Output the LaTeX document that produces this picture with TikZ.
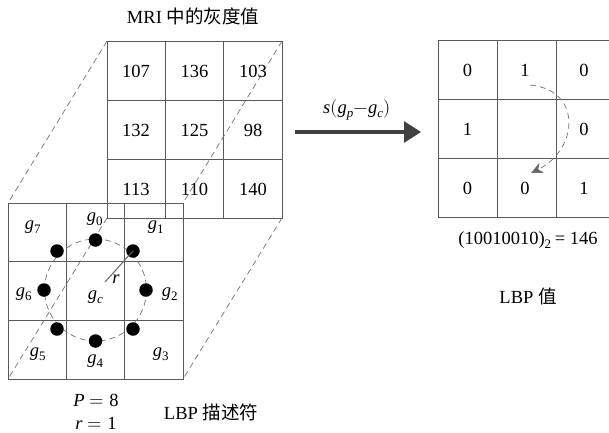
\documentclass[tikz,border=0pt]{standalone}
\usepackage{fontspec}
\setmainfont{Liberation Serif}
\newfontfamily\cjk{Noto Sans CJK SC}
\usepackage{unicode-math}
\setmathfont{Latin Modern Math}
\setmathfont[range={it/{latin,Latin}}]{Liberation Serif Italic}
\setmathfont[range={up/num}]{Liberation Serif}
\usetikzlibrary{arrows.meta}
\begin{document}
\begin{tikzpicture}[x=1pt,y=-1pt,
  gridline/.style={draw=black!65,line width=0.8pt},
  guide/.style={draw=black!55,dash pattern=on 6pt off 4pt,line width=0.7pt},
  num/.style={font=\fontsize{18.5}{18.5}\selectfont,inner sep=0pt},
  lab/.style={font=\fontsize{18.5}{18.5}\selectfont,inner sep=0pt},
  dot/.style={circle,fill=black,inner sep=0pt,minimum size=13.5pt},
  bigarrow/.style={draw=black!75,line width=3.2pt,-{Triangle[length=17pt,width=21pt]}}]
\useasboundingbox (0,0) rectangle (609,432);
% back grid corners
\coordinate (btl) at (107,41); \coordinate (btr) at (282,41);
\coordinate (bbl) at (107,218); \coordinate (bbr) at (282,218);
% front grid corners
\coordinate (ftl) at (8,203); \coordinate (ftr) at (183,203);
\coordinate (fbl) at (8,379); \coordinate (fbr) at (183,379);
% back grid
\draw[gridline] (btl) rectangle (bbr);
\draw[gridline] (165.3,41) -- (165.3,218) (223.7,41) -- (223.7,218)
  (107,100) -- (282,100) (107,159) -- (282,159);
% front grid
\draw[gridline] (ftl) rectangle (fbr);
\draw[gridline] (66.3,203) -- (66.3,379) (124.7,203) -- (124.7,379)
  (8,261.7) -- (183,261.7) (8,320.3) -- (183,320.3);
% dashed guides
\draw[guide] (btl) -- (ftl);
\draw[guide] (btr) -- (ftr);
\draw[guide] (bbr) -- (fbr);
\draw[guide] (bbl) -- (fbl);
% back numbers
\node[num] (n11) at (136,71) {107};
\node[num] (n12) at (194.5,71) {136};
\node[num] (n13) at (253,71) {103};
\node[num] (n21) at (136,130) {132};
\node[num] (n22) at (194.5,130) {125};
\node[num] (n23) at (253,130) {98};
\node[num] (n31) at (136,189) {113};
\node[num] (n32) at (194.5,189) {110};
\node[num] (n33) at (253,189) {140};
\node[num] (title) at (193,16) {MRI {\cjk 中的灰度值}};
% circle and dots
\coordinate (c) at (95.5,290);
\draw[guide] (c) circle[radius=51];
\node[dot] (d0) at (95.5,240) {};
\node[dot] (d1) at (133,251) {};
\node[dot] (d2) at (146,290) {};
\node[dot] (d3) at (133,329) {};
\node[dot] (d4) at (95.5,341) {};
\node[dot] (d5) at (57,329) {};
\node[dot] (d6) at (44,290) {};
\node[dot] (d7) at (57,251) {};
\coordinate (rend) at (105,282);
\draw[draw=black!60,line width=1pt] (rend) -- (d1.center);
\node[lab] (rl) at (116,279) {$r$};
% g labels
\node[lab] (g0) at (95,219) {$g_0$};
\node[lab] (g1) at (156,227) {$g_1$};
\node[lab] (g7) at (33,227) {$g_7$};
\node[lab] (g6) at (24,294) {$g_6$};
\node[lab] (gc) at (95.5,297) {$g_c$};
\node[lab] (g2) at (170,294) {$g_2$};
\node[lab] (g5) at (38,354) {$g_5$};
\node[lab] (g4) at (95.5,361) {$g_4$};
\node[lab] (g3) at (161,354) {$g_3$};
% bottom labels
\node[lab] (P) at (96,400) {$P=8$};
\node[lab] (r1) at (96,423) {$r=1$};
\node[num] (desc) at (211,412) {LBP {\cjk 描述符}};
% main arrow
\coordinate (as) at (295,132);
\coordinate (ae) at (421,132);
\draw[bigarrow] (as) -- (ae);
\node[lab] (sg) at (357,110) {$s(g_p{-}g_c)$};
% right grid
\begin{scope}
\clip (430,30) rectangle (609,230);
\draw[gridline] (438,40) rectangle (615,217);
\draw[gridline] (497,40) -- (497,217) (556,40) -- (556,217)
  (438,99.5) -- (615,99.5) (438,158.5) -- (615,158.5);
\end{scope}
\node[num] (r11) at (467.5,70) {0};
\node[num] (r12) at (525,70) {1};
\node[num] (r13) at (584,70) {0};
\node[num] (r21) at (467.5,129) {1};
\node[num] (r23) at (584,129) {0};
\node[num] (r31) at (467.5,188) {0};
\node[num] (r32) at (525,188) {0};
\node[num] (r33) at (584,188) {1};
\coordinate (cs) at (530,85);
\coordinate (ce) at (531,173);
\draw[guide,draw=black!55,-{Stealth[length=12pt,width=11pt,fill=black!60]}]
  (cs) .. controls (583,90) and (578,150) .. (ce);
\node[num] (val) at (528,240) {(10010010)$_2${\,}= 146};
\node[num] (lbpv) at (528,296) {LBP {\cjk 值}};
\end{tikzpicture}
\end{document}
